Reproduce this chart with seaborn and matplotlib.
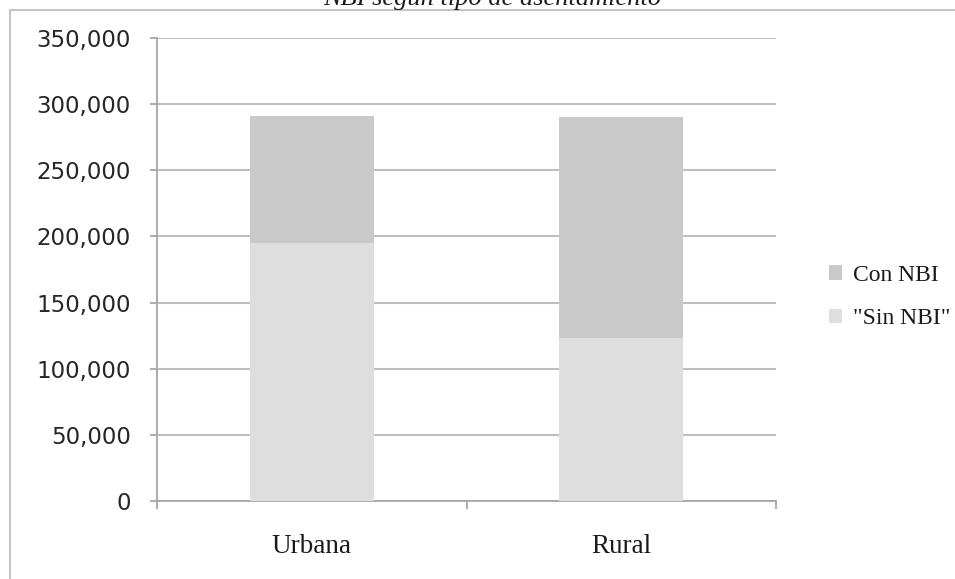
import matplotlib
matplotlib.use("Agg")
import matplotlib.pyplot as plt
import matplotlib.ticker as mticker
from matplotlib.patches import Patch
from matplotlib.lines import Line2D
import pandas as pd
import seaborn as sns

# Households by settlement type, split by unmet basic needs (NBI)
categories = ["Urbana", "Rural"]
sin_nbi = [195000, 123000]
con_nbi = [96000, 167000]
series_labels = ["Con NBI", "\"Sin NBI\""]
y_ticks = [0, 50000, 100000, 150000, 200000, 250000, 300000, 350000]
title = "NBI según tipo de asentamiento"

color_con = "#c9c9c9"
color_sin = "#dedede"
grid_color = "#bfbfbf"

sns.set_theme(style="white")
plt.rcParams["font.family"] = ["DejaVu Sans"]

df = pd.DataFrame({
    "tipo": categories,
    "sin": sin_nbi,
    "con": con_nbi,
})
df["total"] = df["sin"] + df["con"]

fig = plt.figure(figsize=(9.55, 5.79), dpi=100)
ax = fig.add_axes([157 / 955, 78 / 579, (776 - 157) / 955, (501 - 38) / 579])

# stacked bars: full height in the darker tone, lower segment on top of it
sns.barplot(data=df, x="tipo", y="total", color=color_con, width=0.4,
            saturation=1, ax=ax, zorder=3, linewidth=0)
sns.barplot(data=df, x="tipo", y="sin", color=color_sin, width=0.4,
            saturation=1, ax=ax, zorder=4, linewidth=0)

ax.set_xlim(-0.5, 1.5)
ax.set_ylim(0, 350000)
ax.set_yticks(y_ticks)
ax.yaxis.set_major_formatter(mticker.FuncFormatter(lambda v, p: f"{int(v):,}"))
ax.set_xlabel("")
ax.set_ylabel("")

ax.grid(axis="y", color=grid_color, linewidth=1.5, zorder=0)
ax.grid(axis="x", visible=False)
ax.set_axisbelow(True)

for side in ["top", "right"]:
    ax.spines[side].set_visible(False)
for side in ["left", "bottom"]:
    ax.spines[side].set_color("#a6a6a6")
    ax.spines[side].set_linewidth(1.3)

ax.tick_params(axis="y", length=5, width=1.3, color="#a6a6a6",
               labelsize=16.5, labelcolor="#262626", pad=14, left=True)
ax.set_xticks([0, 1])
ax.set_xticklabels(categories, family="Liberation Serif", fontsize=19.5,
                   color="#1a1a1a")
ax.tick_params(axis="x", length=0, pad=24)
ax.set_xticks([-0.5, 0.5, 1.5], minor=True)
ax.tick_params(axis="x", which="minor", length=6, width=1.3,
               color="#a6a6a6", bottom=True)

handles = [Patch(facecolor=color_con, edgecolor="none"),
           Patch(facecolor=color_sin, edgecolor="none")]
fig.legend(handles, series_labels, loc="center left",
           bbox_to_anchor=(808 / 955, 1 - 297 / 579), frameon=False,
           prop={"family": "Liberation Serif", "size": 17},
           handlelength=0.55, handleheight=0.55, handletextpad=0.45,
           labelspacing=0.95, labelcolor="#1a1a1a")

# outer chart frame
frame_color = "#c4c4c4"
fig.add_artist(Line2D([9.5 / 955, 9.5 / 955], [0, 1 - 9.5 / 579],
                      transform=fig.transFigure, color=frame_color, lw=1.5))
fig.add_artist(Line2D([9.5 / 955, 1], [1 - 9.5 / 579, 1 - 9.5 / 579],
                      transform=fig.transFigure, color=frame_color, lw=1.5))

fig.text(492 / 955, 1 - 5 / 579, title, ha="center", va="baseline",
         family="Liberation Serif", style="italic", fontsize=19,
         color="#1a1a1a")

fig.savefig("out.png", dpi=100, facecolor="white")
